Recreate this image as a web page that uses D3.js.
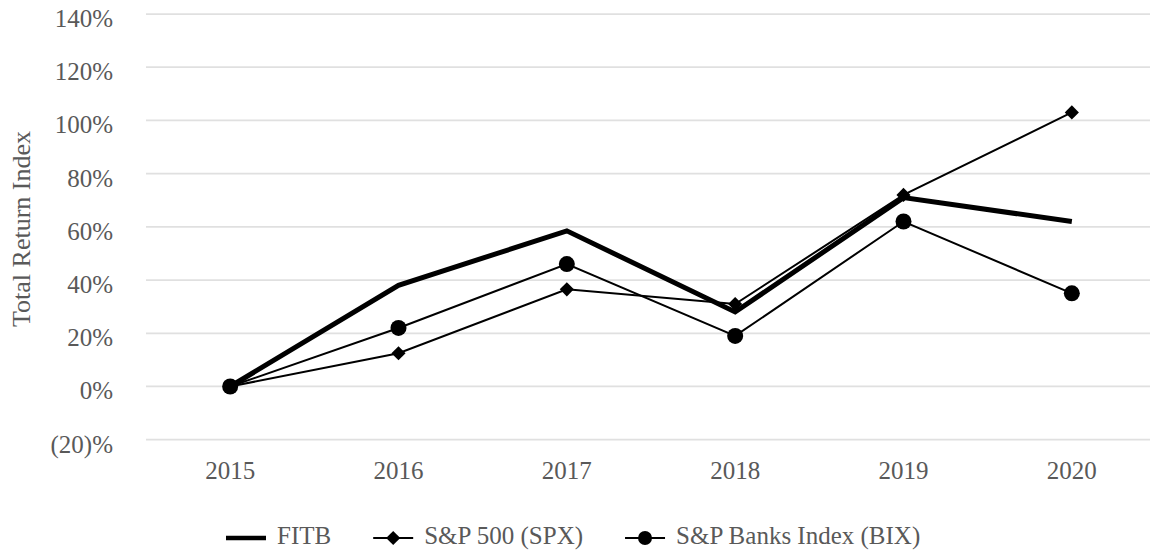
<!DOCTYPE html>
<html lang="en">
<head>
<meta charset="utf-8">
<title>Total Return Index</title>
<script src="https://d3js.org/d3.v7.min.js"></script>
<style>
  body { margin: 0; background: #fff; }
  text { font-family: "Liberation Serif", "Times New Roman", serif; fill: #595959; }
</style>
</head>
<body>
<script>
// chart data (percent total return since 2015)
var years = ["2015", "2016", "2017", "2018", "2019", "2020"];
var fitb = [0, 38, 58.5, 28, 71, 62];
var spx = [0, 12.5, 36.5, 31, 72, 103];
var bix = [0, 22, 46, 19, 62, 35];
var yTicks = [-20, 0, 20, 40, 60, 80, 100, 120, 140];
var seriesNames = ["FITB", "S&P 500 (SPX)", "S&P Banks Index (BIX)"];

var W = 1150, H = 552;

var svg = d3.select("body").append("svg")
    .attr("width", W)
    .attr("height", H);

var x = d3.scaleBand()
    .domain(years)
    .range([146, 1156]);

var y = d3.scaleLinear()
    .domain([-20, 140])
    .range([439.7, 14]);

// gridlines
svg.append("g")
  .selectAll("line")
  .data(yTicks)
  .enter().append("line")
    .attr("x1", 146)
    .attr("x2", 1156)
    .attr("y1", function(d) { return y(d); })
    .attr("y2", function(d) { return y(d); })
    .attr("stroke", "#e0e0e0")
    .attr("stroke-width", 1.75);

// y axis labels
function fmt(d) { return d < 0 ? "(" + (-d) + ")%" : d + "%"; }
svg.append("g")
  .selectAll("text")
  .data(yTicks)
  .enter().append("text")
    .attr("x", 113)
    .attr("y", function(d) { return y(d) + 13; })
    .attr("text-anchor", "end")
    .attr("font-size", "25px")
    .text(fmt);

// x axis labels
svg.append("g")
  .selectAll("text")
  .data(years)
  .enter().append("text")
    .attr("x", function(d) { return x(d) + x.bandwidth() / 2; })
    .attr("y", 479)
    .attr("text-anchor", "middle")
    .attr("font-size", "25px")
    .text(function(d) { return d; });

// axis title
svg.append("text")
  .attr("transform", "translate(30,229) rotate(-90)")
  .attr("text-anchor", "middle")
  .attr("font-size", "26px")
  .text("Total Return Index");

var line = d3.line()
  .x(function(d, i) { return x(years[i]) + x.bandwidth() / 2; })
  .y(function(d) { return y(d); });

var diamond = d3.symbol().type(d3.symbolSquare).size(100);

// lines
svg.append("path").datum(spx)
  .attr("d", line).attr("fill", "none").attr("stroke", "#000").attr("stroke-width", 2);
svg.append("path").datum(bix)
  .attr("d", line).attr("fill", "none").attr("stroke", "#000").attr("stroke-width", 2);
svg.append("path").datum(fitb)
  .attr("d", line).attr("fill", "none").attr("stroke", "#000").attr("stroke-width", 5)
  .attr("stroke-linejoin", "miter");

// markers
svg.append("g").selectAll("path")
  .data(spx)
  .enter().append("path")
    .attr("d", diamond)
    .attr("transform", function(d, i) {
      return "translate(" + (x(years[i]) + x.bandwidth() / 2) + "," + y(d) + ") rotate(45)";
    })
    .attr("fill", "#000");

svg.append("g").selectAll("circle")
  .data(bix)
  .enter().append("circle")
    .attr("cx", function(d, i) { return x(years[i]) + x.bandwidth() / 2; })
    .attr("cy", function(d) { return y(d); })
    .attr("r", 8)
    .attr("fill", "#000");

// legend
var legend = svg.append("g");
var lx = 226, ly = 538;
seriesNames.forEach(function(name, i) {
  var g = legend.append("g");
  if (i === 0) {
    g.append("line").attr("x1", lx).attr("x2", lx + 40).attr("y1", ly).attr("y2", ly)
      .attr("stroke", "#000").attr("stroke-width", 4.5);
  } else {
    g.append("line").attr("x1", lx).attr("x2", lx + 40).attr("y1", ly).attr("y2", ly)
      .attr("stroke", "#000").attr("stroke-width", 2);
    if (i === 1) {
      g.append("path").attr("d", diamond)
        .attr("transform", "translate(" + (lx + 20) + "," + ly + ") rotate(45)")
        .attr("fill", "#000");
    } else {
      g.append("circle").attr("cx", lx + 20).attr("cy", ly).attr("r", 7).attr("fill", "#000");
    }
  }
  var t = g.append("text")
    .attr("x", lx + 51)
    .attr("y", 544)
    .attr("font-size", "25px")
    .text(name);
  lx = lx + 51 + t.node().getComputedTextLength() + 42;
});
</script>
</body>
</html>
